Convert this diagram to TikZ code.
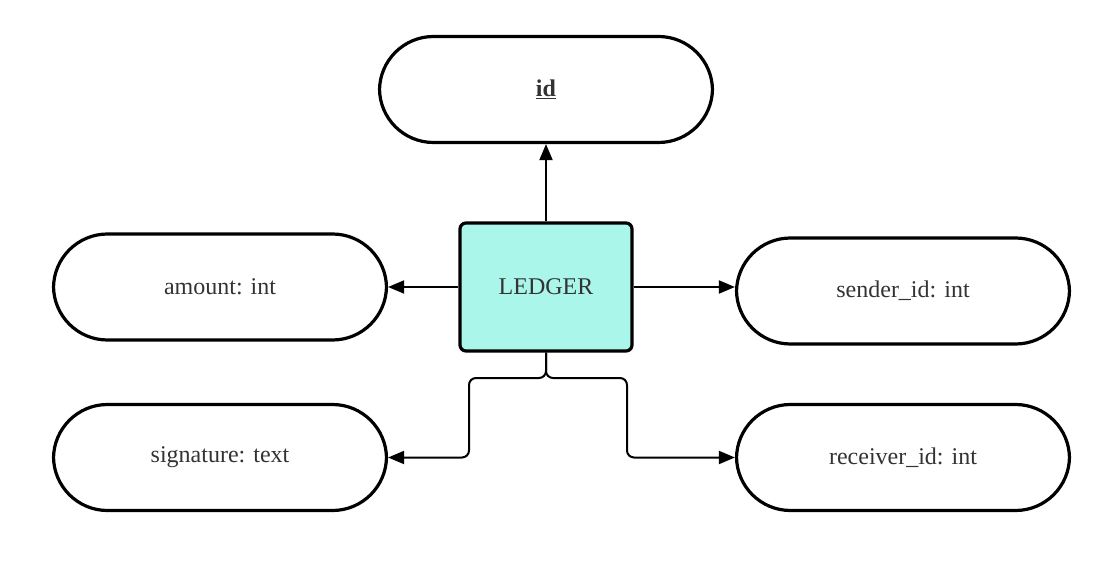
\documentclass[tikz,border=0pt]{standalone}
\usepackage{fontspec}
\setmainfont{Liberation Serif}
\usetikzlibrary{arrows.meta}
\definecolor{ledgerfill}{RGB}{170,246,235}
\definecolor{txt}{RGB}{51,51,51}
\tikzset{
  attr/.style={draw=black, line width=3.2pt, rounded corners=54pt, minimum width=333pt, minimum height=106pt, inner sep=0pt, text=txt, font=\fontsize{24}{28}\selectfont},
  entity/.style={draw=black, line width=3.2pt, fill=ledgerfill, rounded corners=6pt, minimum width=172pt, minimum height=128pt, inner sep=0pt, text=txt, font=\fontsize{24}{28}\selectfont},
  conn/.style={line width=2pt, rounded corners=7pt, -{Triangle[length=16pt,width=13pt]}}
}
\begin{document}
\begin{tikzpicture}[x=1pt,y=1pt]
\useasboundingbox (0,0) rectangle (1098,-585);
\node[attr] (id) at (546,-89.5) {\underline{\textbf{id}}};
\node[attr] (amount) at (220,-287) {amount: int};
\node[attr] (sender) at (903,-291) {sender\_id: int};
\node[attr] (sig) at (220,-457.5) {signature: text};
\node[attr] (recv) at (903,-457.5) {receiver\_id: int};
\node[entity] (ledger) at (546,-287) {LEDGER};
\coordinate (split) at (546,-378);
\draw[conn] (ledger.north) -- (id.south);
\draw[conn] (ledger.west) -- (amount.east);
\draw[conn] (ledger.east) -- (sender.west |- ledger.east);
\draw[conn] (ledger.south) -- (split) -- (469,-378) -- (469,-457.5) -- (sig.east);
\draw[conn] (ledger.south) -- (split) -- (627,-378) -- (627,-457.5) -- (recv.west);
\end{tikzpicture}
\end{document}
